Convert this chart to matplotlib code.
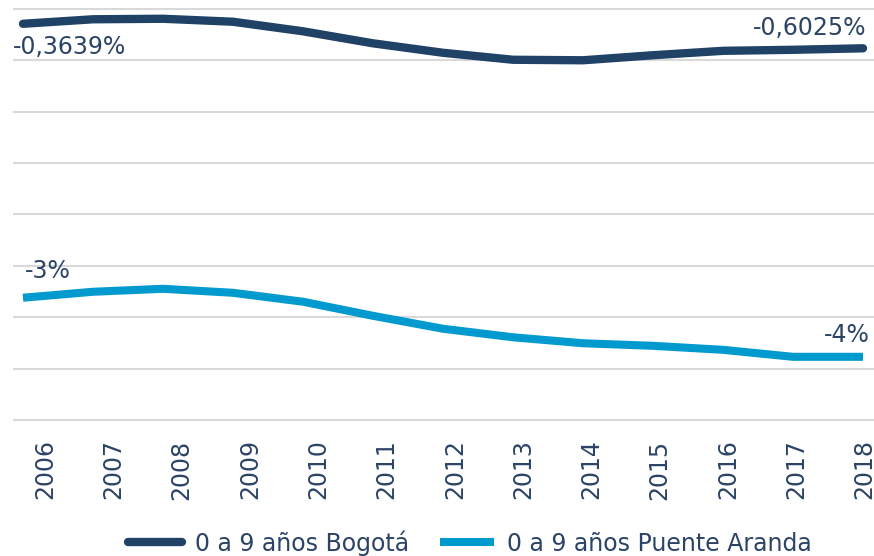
import numpy as np
import matplotlib as mpl
mpl.use("Agg")
import matplotlib.pyplot as plt

years = [2006, 2007, 2008, 2009, 2010, 2011, 2012, 2013, 2014, 2015, 2016, 2017, 2018]
bogota = [-0.3639, -0.320, -0.315, -0.344, -0.437, -0.554, -0.646, -0.714, -0.719,
          -0.670, -0.627, -0.617, -0.6025]
puente = [-3.030, -2.972, -2.943, -2.982, -3.069, -3.206, -3.332, -3.415, -3.473,
          -3.498, -3.537, -3.605, -3.605]
names = ["0 a 9 años Bogotá", "0 a 9 años Puente Aranda"]
lbl_bog = ["-0,3639%", "-0,6025%"]
lbl_pa = ["-3%", "-4%"]

navy = "#1F4266"
blue = "#009ACF"
txt = "#2B4466"

plt.rcParams['font.family'] = ['DejaVu Sans']

fig = plt.figure(figsize=(8.74, 5.56), dpi=100)
ax = fig.add_axes([14/874, 136/556, 860/874, 411/556])

ax.plot(years, bogota, color=navy, lw=6, solid_capstyle='round',
        solid_joinstyle='round', label=names[0])
ax.plot(years, puente, color=blue, lw=5.8, solid_capstyle='butt',
        solid_joinstyle='round', label=names[1])

ax.set_xlim(years[0] - 9/70, years[-1] + 11/70)
ax.set_ylim(-4.22, -0.22)
ax.set_yticks(np.arange(-4.22, -0.21, 0.5))
ax.yaxis.grid(True, color="#D9D9D9", lw=1.5)
for gl in ax.get_ygridlines():
    gl.set_clip_on(False)
ax.set_axisbelow(True)

# category labels sit on a slightly narrower spacing than the points
lab = ax.twiny()
lab.set_xlim(years[0] - 31/68.3, years[0] + 829/68.3)
lab.set_xticks(years)
lab.set_xticklabels([str(y) for y in years], rotation=90, fontsize=17, color=txt)
lab.tick_params(axis='x', top=False, labeltop=False, bottom=False, labelbottom=True,
                length=0, pad=14)

ax.tick_params(axis='y', left=False, labelleft=False)
ax.tick_params(axis='x', bottom=False, labelbottom=False, top=False, labeltop=False)
for a in (ax, lab):
    for s in a.spines.values():
        s.set_visible(False)

# data labels at the ends of each series
kw = dict(textcoords='offset pixels', fontsize=17, color=txt, va='center')
ax.annotate(lbl_bog[0], xy=(years[0], bogota[0]), xytext=(-10, -23), ha='left', **kw)
ax.annotate(lbl_bog[1], xy=(years[-1], bogota[-1]), xytext=(3, 20), ha='right', **kw)
ax.annotate(lbl_pa[0], xy=(years[0], puente[0]), xytext=(2, 27), ha='left', **kw)
ax.annotate(lbl_pa[1], xy=(years[-1], puente[-1]), xytext=(7, 22), ha='right', **kw)

leg = fig.legend(*ax.get_legend_handles_labels(), loc='center',
                 bbox_to_anchor=(470/874, 1 - 543/556), ncol=2,
                 frameon=False, fontsize=17, handlelength=2.3, handletextpad=0.55,
                 columnspacing=1.3, borderaxespad=0)
for t in leg.get_texts():
    t.set_color(txt)

fig.savefig("out.png", dpi=100)
